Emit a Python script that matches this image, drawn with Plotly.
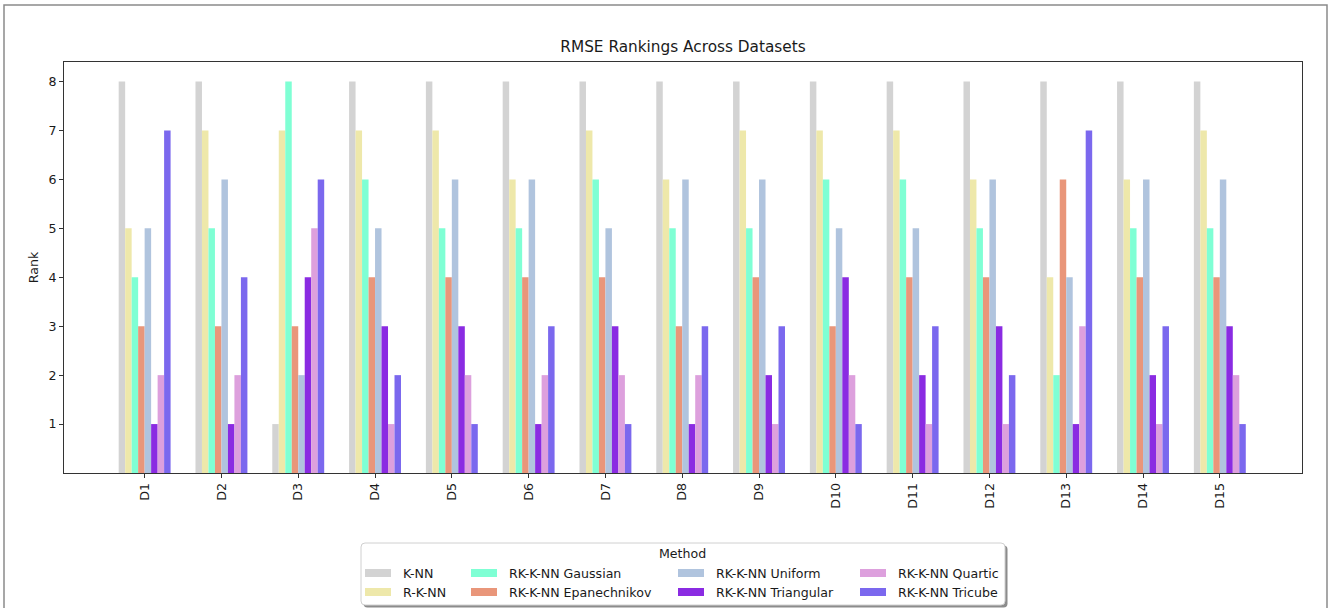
import plotly.graph_objects as go

# Rank of each method (1 = best RMSE) on each dataset
DATASETS = [f"D{i}" for i in range(1, 16)]
METHODS = [
    "K-NN", "R-K-NN", "RK-K-NN Gaussian", "RK-K-NN Epanechnikov",
    "RK-K-NN Uniform", "RK-K-NN Triangular", "RK-K-NN Quartic", "RK-K-NN Tricube",
]
COLORS = [
    "#D3D3D3", "#EEE8AA", "#7FFFD4", "#E9967A",
    "#B0C4DE", "#8A2BE2", "#DDA0DD", "#7B68EE",
]

knn = [8, 8, 1, 8, 8, 8, 8, 8, 8, 8, 8, 8, 8, 8, 8]
r_knn = [5, 7, 7, 7, 7, 6, 7, 6, 7, 7, 7, 6, 4, 6, 7]
rk_gaussian = [4, 5, 8, 6, 5, 5, 6, 5, 5, 6, 6, 5, 2, 5, 5]
rk_epanechnikov = [3, 3, 3, 4, 4, 4, 4, 3, 4, 3, 4, 4, 6, 4, 4]
rk_uniform = [5, 6, 2, 5, 6, 6, 5, 6, 6, 5, 5, 6, 4, 6, 6]
rk_triangular = [1, 1, 4, 3, 3, 1, 3, 1, 2, 4, 2, 3, 1, 2, 3]
rk_quartic = [2, 2, 5, 1, 2, 2, 2, 2, 1, 2, 1, 1, 3, 1, 2]
rk_tricube = [7, 4, 6, 2, 1, 3, 1, 3, 3, 1, 3, 2, 7, 3, 1]

RANKS = [knn, r_knn, rk_gaussian, rk_epanechnikov,
         rk_uniform, rk_triangular, rk_quartic, rk_tricube]

Y_TICKS = [1, 2, 3, 4, 5, 6, 7, 8]

FONT = "DejaVu Sans"
TEXT = "#1a1a1a"
AXIS = "#333333"
FS = 12.6
FS_TITLE = 15.3

# plot-area geometry in pixels (used to place the figure frame and legend)
W, H = 1328, 608
L, R, T, B = 64, 1302, 62, 473


def px(x):
    return (x - L) / (R - L)


def py(y):
    return (B - y) / (B - T)


fig = go.Figure()
for name, color, vals in zip(METHODS, COLORS, RANKS):
    fig.add_trace(go.Bar(
        x=DATASETS, y=vals, name=name,
        marker=dict(color=color, line=dict(width=0)),
        showlegend=False,
    ))

shapes = []
annotations = []

# outer figure frame
shapes.append(dict(type="rect", xref="paper", yref="paper",
                   x0=px(4), x1=px(1327), y0=py(625), y1=py(5),
                   line=dict(color="#8a8a8a", width=1.5), layer="below"))


def rounded(x0, y0, x1, y1, r):
    rx = r / (R - L)
    ry = r / (B - T)
    X0, X1, Y0, Y1 = px(x0), px(x1), py(y1), py(y0)
    return (f"M{X0 + rx},{Y0} L{X1 - rx},{Y0} Q{X1},{Y0} {X1},{Y0 + ry} "
            f"L{X1},{Y1 - ry} Q{X1},{Y1} {X1 - rx},{Y1} "
            f"L{X0 + rx},{Y1} Q{X0},{Y1} {X0},{Y1 - ry} "
            f"L{X0},{Y0 + ry} Q{X0},{Y0} {X0 + rx},{Y0} Z")


# legend box with drop shadow
box = (361, 543, 1005, 605)
shapes.append(dict(type="path", xref="paper", yref="paper",
                   path=rounded(box[0] + 2.5, box[1] + 2.5, box[2] + 2.5, box[3] + 2.5, 4),
                   fillcolor="#8c8c8c", line=dict(width=0), layer="above"))
shapes.append(dict(type="path", xref="paper", yref="paper",
                   path=rounded(*box, 4),
                   fillcolor="white", line=dict(color="#d0d0d0", width=1), layer="above"))

annotations.append(dict(xref="paper", yref="paper", x=px(682), y=py(553),
                        text="Method", showarrow=False, xanchor="center", yanchor="middle",
                        font=dict(family=FONT, size=FS, color=TEXT)))

col_patch_x = [365, 471, 678, 860]
row_y = [573, 592]
for i, (name, color) in enumerate(zip(METHODS, COLORS)):
    c, r = divmod(i, 2)
    x0 = col_patch_x[c]
    y = row_y[r]
    shapes.append(dict(type="rect", xref="paper", yref="paper",
                       x0=px(x0), x1=px(x0 + 26), y0=py(y + 4), y1=py(y - 4),
                       fillcolor=color, line=dict(width=0), layer="above"))
    annotations.append(dict(xref="paper", yref="paper", x=px(x0 + 36), y=py(y),
                            text=name, showarrow=False, xanchor="left", yanchor="middle",
                            font=dict(family=FONT, size=FS, color=TEXT)))

fig.update_layout(
    width=W, height=H,
    margin=dict(l=L, r=W - R, t=T, b=H - B),
    paper_bgcolor="white", plot_bgcolor="white",
    barmode="group", bargap=0.324, bargroupgap=0,
    font=dict(family=FONT, size=FS, color=TEXT),
    title=dict(text="RMSE Rankings Across Datasets", x=0.5, xref="paper",
               y=1 - 47 / H, yref="container", xanchor="center", yanchor="middle",
               font=dict(family=FONT, size=FS_TITLE, color=TEXT)),
    xaxis=dict(type="category", range=[-1.05, 15.07], showgrid=False,
               showline=True, linecolor=AXIS, linewidth=1, mirror=True,
               ticks="outside", ticklen=4, tickcolor=AXIS, tickangle=-90,
               tickfont=dict(family=FONT, size=FS, color=TEXT)),
    yaxis=dict(range=[0, 8.4], tickvals=Y_TICKS, showgrid=False, zeroline=False,
               showline=True, linecolor=AXIS, linewidth=1, mirror=True,
               ticks="outside", ticklen=4, tickcolor=AXIS,
               tickfont=dict(family=FONT, size=FS, color=TEXT),
               title=dict(text="Rank", standoff=7,
                          font=dict(family=FONT, size=FS, color=TEXT))),
    shapes=shapes, annotations=annotations,
)

fig.write_html("out.html")
